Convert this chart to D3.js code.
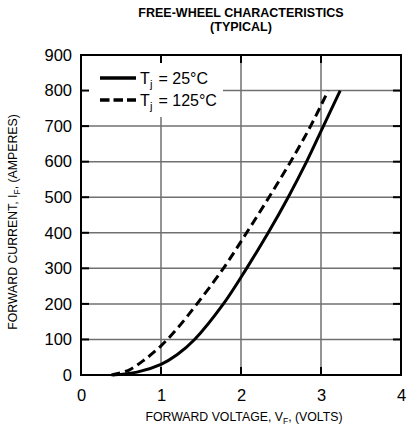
<!DOCTYPE html>
<html><head><meta charset="utf-8">
<script src="https://cdn.jsdelivr.net/npm/d3@7/dist/d3.min.js"></script>
<style>body{margin:0;background:#fff;} svg{display:block;font-family:"Liberation Sans",Arial,Helvetica,sans-serif;} text,tspan{fill:#000;}</style>
</head><body><svg id="c" width="417" height="430"></svg>
<script>
const xTicks = [0, 1, 2, 3, 4];
const yTicks = [0, 100, 200, 300, 400, 500, 600, 700, 800, 900];
const seriesNames = ["25°C", "125°C"];
// Tj = 25°C (solid)
const v25 = [0.40, 0.70, 1.00, 1.20, 1.42, 1.78, 2.07, 2.34, 2.59, 2.82, 3.03, 3.24];
const i25 = [0, 8, 30, 57, 100, 200, 300, 400, 500, 600, 700, 800];
// Tj = 125°C (dashed)
const v125 = [0.38, 0.60, 0.80, 1.00, 1.20, 1.45, 1.78, 2.07, 2.35, 2.62, 2.87, 3.09];
const i125 = [0, 14, 44, 82, 130, 200, 300, 400, 500, 600, 700, 800];

const svg = d3.select("#c");
const L = 81, R = 401, T = 55, B = 375;
const x = d3.scaleLinear().domain([0, 4]).range([L, R]);
const y = d3.scaleLinear().domain([0, 900]).range([B, T]);

// gridlines
const g = svg.append("g");
g.selectAll(".vg").data(xTicks.slice(1, -1)).join("line")
  .attr("x1", d => x(d)).attr("x2", d => x(d)).attr("y1", T).attr("y2", B)
  .attr("stroke", "#707070").attr("stroke-width", 1.5);
g.selectAll(".hg").data(yTicks.slice(1, -1)).join("line")
  .attr("y1", d => y(d)).attr("y2", d => y(d)).attr("x1", L).attr("x2", R)
  .attr("stroke", "#707070").attr("stroke-width", 1.5);

// legend background
svg.append("rect").attr("x", L + 1).attr("y", T + 1).attr("width", 141).attr("height", 61).attr("fill", "#fff");

// ticks (inward, black)
const tl = 8;
const tk = svg.append("g").attr("stroke", "#000").attr("stroke-width", 2);
xTicks.slice(1, -1).forEach(d => {
  tk.append("line").attr("x1", x(d)).attr("x2", x(d)).attr("y1", B).attr("y2", B - tl);
  tk.append("line").attr("x1", x(d)).attr("x2", x(d)).attr("y1", T).attr("y2", T + tl);
});
yTicks.slice(1, -1).forEach(d => {
  tk.append("line").attr("y1", y(d)).attr("y2", y(d)).attr("x1", L).attr("x2", L + tl);
  tk.append("line").attr("y1", y(d)).attr("y2", y(d)).attr("x1", R).attr("x2", R - tl);
});

// frame
svg.append("rect").attr("x", L).attr("y", T).attr("width", R - L).attr("height", B - T)
  .attr("fill", "none").attr("stroke", "#000").attr("stroke-width", 2);

// axes labels via d3 axes (no lines)
const xAxis = svg.append("g").attr("transform", `translate(0,${B})`)
  .call(d3.axisBottom(x).tickValues(xTicks).tickSize(0).tickPadding(14).tickFormat(d3.format("d")));
xAxis.select(".domain").remove();
xAxis.selectAll("text").attr("font-size", 16.5).attr("fill", "#000").attr("font-family", "Liberation Sans, Arial, sans-serif");
const yAxis = svg.append("g").attr("transform", `translate(${L},0)`)
  .call(d3.axisLeft(y).tickValues(yTicks).tickSize(0).tickPadding(9).tickFormat(d3.format("d")));
yAxis.select(".domain").remove();
yAxis.selectAll("text").attr("font-size", 16.5).attr("fill", "#000").attr("font-family", "Liberation Sans, Arial, sans-serif");

// curves
const line = d3.line().x(d => x(d[0])).y(d => y(d[1])).curve(d3.curveCatmullRom.alpha(0.5));
svg.append("path").datum(v25.map((v, k) => [v, i25[k]])).attr("d", line)
  .attr("fill", "none").attr("stroke", "#000").attr("stroke-width", 3);
svg.append("path").datum(v125.map((v, k) => [v, i125[k]])).attr("d", line)
  .attr("fill", "none").attr("stroke", "#000").attr("stroke-width", 3).attr("stroke-dasharray", "9,5");

// legend
const leg = [{y: 78, dash: null, t: seriesNames[0]}, {y: 100, dash: "9.5,4", t: seriesNames[1]}];
leg.forEach(d => {
  svg.append("line").attr("x1", 100).attr("x2", 136).attr("y1", d.y).attr("y2", d.y)
    .attr("stroke", "#000").attr("stroke-width", 3.5).attr("stroke-dasharray", d.dash);
  svg.append("text").attr("x", 140).attr("y", d.y + 6).attr("font-size", 16).style("fill", "#000").text("T");
  svg.append("text").attr("x", 150).attr("y", d.y + 10).attr("font-size", 11).style("fill", "#000").text("j");
  svg.append("text").attr("x", 154).attr("y", d.y + 6).attr("font-size", 16).style("fill", "#000").text(" = " + d.t).attr("xml:space", "preserve");
});

// title
svg.append("text").attr("x", 241).attr("y", 17).attr("text-anchor", "middle")
  .attr("font-size", 12.5).attr("font-weight", "bold").text("FREE-WHEEL CHARACTERISTICS");
svg.append("text").attr("x", 241).attr("y", 31).attr("text-anchor", "middle")
  .attr("font-size", 12.5).attr("font-weight", "bold").text("(TYPICAL)");

// x axis title
const xt = svg.append("text").attr("x", 244).attr("y", 421).attr("text-anchor", "middle").attr("font-size", 12.3);
xt.append("tspan").text("FORWARD VOLTAGE, V");
xt.append("tspan").attr("font-size", 8.5).attr("dy", 3).text("F");
xt.append("tspan").attr("dy", -3).text(", (VOLTS)");

// y axis title
const yt = svg.append("text").attr("transform", "translate(17,222) rotate(-90)").attr("text-anchor", "middle").attr("font-size", 12.3);
yt.append("tspan").text("FORWARD CURRENT, I");
yt.append("tspan").attr("font-size", 8.5).attr("dy", 3).text("F");
yt.append("tspan").attr("dy", -3).text(", (AMPERES)");
</script></body></html>
